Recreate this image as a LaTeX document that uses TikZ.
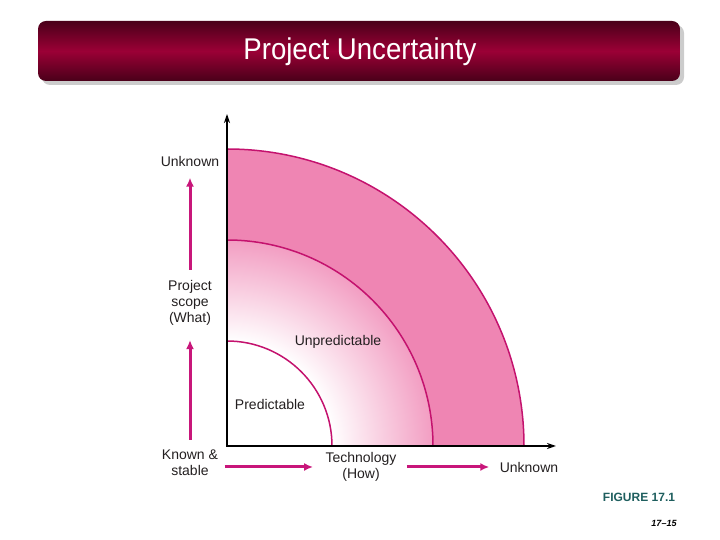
\documentclass[tikz,border=0pt]{standalone}
\usepackage{fontspec}
\setmainfont{Liberation Sans}
\usepackage{tikz}
\usepackage{xcolor}
\usetikzlibrary{arrows.meta}

\definecolor{barDark}{HTML}{4A0019}
\definecolor{barMid}{HTML}{9B0036}
\definecolor{bandPink}{HTML}{EF85B3}
\definecolor{arcLine}{HTML}{C4126E}
\definecolor{arrowMag}{HTML}{C8167A}
\definecolor{labelText}{HTML}{231F20}
\definecolor{figTeal}{HTML}{1E5E5E}

\pgfdeclareradialshading{bandshade}{\pgfpointorigin}{color(0bp)=(white); color(12.7bp)=(white); color(25bp)=(bandPink!80); color(50bp)=(bandPink!80)}

\begin{document}
\begin{tikzpicture}[x=1pt, y=1pt,
            lbl/.style={font=\fontsize{14}{16}\selectfont, text=labelText, align=center},
            arrow/.style={-{Latex[length=9pt,width=8pt]}, line width=3pt, draw=arrowMag, shorten <=7pt, shorten >=7pt},
            axis/.style={{Stealth[length=9pt,width=6pt]}-{Stealth[length=9pt,width=6pt]}, line width=1.8pt},
            ring/.style={draw=arcLine, line width=1.5pt}
        ]
            \useasboundingbox (0,0) rectangle (720,540);

            % Title bar
            \fill[gray!40, rounded corners=8pt] (42,455) rectangle (684,515);
            \shade[rounded corners=8pt, top color=barDark, bottom color=barDark, middle color=barMid] (38,459) rectangle (680,519);
            \node[font=\fontsize{30}{34}\selectfont, text=white, xscale=0.92] (title) at (360,488) {Project Uncertainty};

            % Axes
            \coordinate (O) at (227,94);
            \coordinate (ytop) at (227,426);
            \coordinate (xend) at (556,94);

            % Outer band
            \fill[bandPink] (524,94) arc[start angle=0, end angle=90, radius=297] -- (227,300) arc[start angle=90, end angle=0, radius=206] -- cycle;

            % Middle band, shaded
            \begin{scope}
                \clip (433,94) arc[start angle=0, end angle=90, radius=206] -- (227,199) arc[start angle=90, end angle=0, radius=105] -- cycle;
                \shade[shading=bandshade] (O) circle[radius=206];
            \end{scope}

            % Ring lines
            \draw[ring] (332,94) arc[start angle=0, end angle=90, radius=105];
            \draw[ring] (433,94) arc[start angle=0, end angle=90, radius=206];
            \draw[ring] (524,94) arc[start angle=0, end angle=90, radius=297];

            \draw[axis] (ytop) -- (O) -- (xend);

            % Labels
            \node[lbl] (ylow) at (190,77) {Known \&\\stable};
            \node[lbl] (scope) at (190,237) {Project\\scope\\(What)};
            \node[lbl] (yhigh) at (190,378) {Unknown};
            \node[lbl] (tech) at (361,73) {Technology\\(How)};
            \node[lbl] (xhigh) at (529,73) {Unknown};
            \node[lbl] (unpred) at (338,198) {Unpredictable};
            \node[lbl] (pred) at (270,135) {Predictable};

            % Direction arrows
            \draw[arrow, shorten >=11pt] (ylow) -- (scope);
            \draw[arrow] (scope) -- (yhigh);
            \draw[arrow, shorten <=3pt, shorten >=9pt] (ylow.east |- tech) -- (tech);
            \draw[arrow] (tech) -- (xhigh);

            % Figure caption
            \node[font=\fontsize{12}{14}\selectfont\bfseries, text=figTeal] (fig) at (639,43) {FIGURE 17.1};
            \node[font=\fontsize{9}{11}\selectfont\bfseries\itshape] (page) at (664,17) {17--15};
        \end{tikzpicture}
\end{document}
